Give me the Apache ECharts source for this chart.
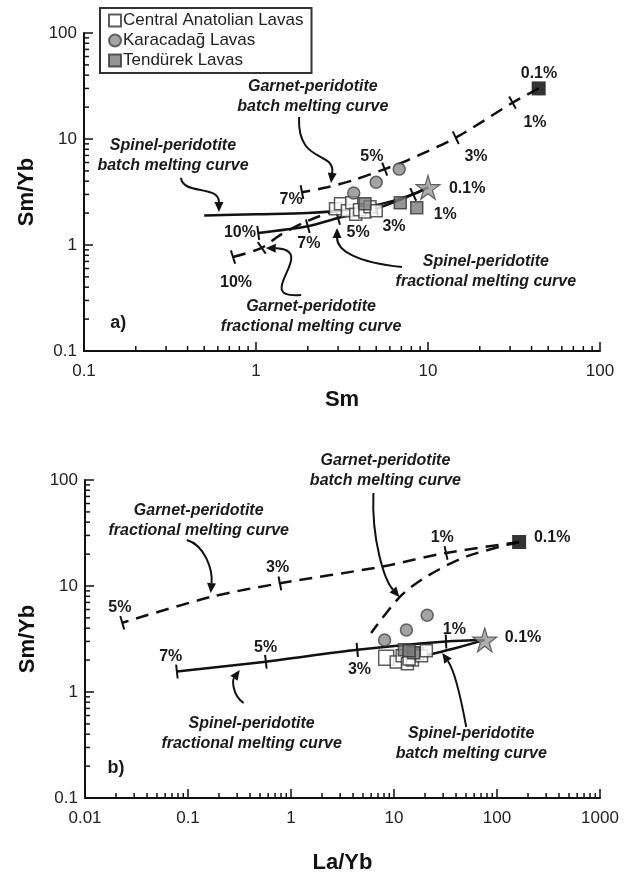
<!DOCTYPE html>
<html>
<head>
<meta charset="utf-8">
<script src="https://cdn.jsdelivr.net/npm/echarts@6/dist/echarts.min.js"></script>
<style>
  html, body { margin: 0; padding: 0; background: #fff; }
  #chart { width: 629px; height: 877px; }
</style>
</head>
<body>
<div id="chart"></div>
<script>
const FONT = '"Liberation Sans", Arial, Helvetica, sans-serif'

// ---------- panel a : Sm vs Sm/Yb ----------
const aCentral = [[2.9, 2.2], [3.1, 2.45], [3.4, 2.1], [3.6, 2.5], [3.8, 1.95], [4.0, 2.15], [4.3, 2.05], [4.6, 2.3], [5.0, 2.1]]
const aKaracadag = [[3.7, 3.1], [5.0, 3.9], [6.8, 5.2]]
const aTendurek = [[4.3, 2.45], [6.9, 2.5], [8.6, 2.25]]
const aGarnetSource = [[44, 30]]
const aSpinelSource = [[10, 3.5]]

const aGarnetBatch = [[44, 30], [31, 22], [14.5, 10.3], [7.6, 6.3], [5.6, 5.2], [3.7, 4.1], [2.6, 3.5], [1.85, 3.15]]
const aGarnetFrac = [[0.735, 0.77], [1.08, 0.94], [1.38, 1.24], [2.05, 1.72], [2.9, 2.1], [3.4, 2.25]]
const aSpinelBatch = [[0.5, 1.9], [1.0, 1.95], [2.0, 2.0], [3.0, 2.1], [4.5, 2.3], [6.5, 2.65], [8.3, 3.05], [10, 3.5]]
const aSpinelFrac = [[1.03, 1.3], [2.0, 1.5], [3.0, 1.8], [5.0, 2.2], [8.2, 3.0], [10, 3.5]]
// percent ticks on the curves: [x, y, curve index]
const aCurveTicks = [[31, 22, 0], [14.5, 10.3, 0], [5.6, 5.2, 0], [1.85, 3.15, 0],
  [0.735, 0.77, 1], [1.08, 0.94, 1],
  [1.03, 1.3, 3], [2.0, 1.5, 3], [3.0, 1.8, 3], [5.0, 2.2, 3], [8.2, 3.0, 3]]
const aPctPos = [[44.2, 41], [41.9, 14.2], [19.0, 6.76], [4.72, 6.76], [1.6, 2.66], [16.9, 3.38], [12.6, 1.92],
  [0.807, 1.3], [2.03, 1.04], [3.92, 1.3], [6.34, 1.48], [0.765, 0.438]]
const aPctText = ['0.1%', '1%', '3%', '5%', '7%', '0.1%', '1%', '10%', '7%', '5%', '3%', '10%']
const aNotePos = [[2.14, 24.9], [0.329, 6.92], [21.7, 0.556], [2.09, 0.209]]
const aNoteText = ['Garnet-peridotite\nbatch melting curve', 'Spinel-peridotite\nbatch melting curve',
  'Spinel-peridotite\nfractional melting curve', 'Garnet-peridotite\nfractional melting curve']
// arrows: start, control 1, control 2, end
const aArrows = [
  [[1.78, 16.1], [1.73, 5.69], [2.88, 7.87], [2.73, 3.85]],
  [[0.366, 4.29], [0.376, 2.96], [0.609, 3.68], [0.609, 2.05]],
  [[7.06, 0.62], [3.76, 0.69], [2.96, 0.9], [2.96, 1.45]],
  [[1.83, 0.338], [0.923, 0.303], [2.36, 0.897], [1.14, 0.937]]
]

// ---------- panel b : La/Yb vs Sm/Yb ----------
const bCentral = [[8.4, 2.1], [10.5, 1.92], [12, 2.2], [13.5, 1.85], [15.1, 2.0], [17, 2.3], [18.5, 2.2], [20.6, 2.45], [14, 2.05]]
const bKaracadag = [[8.1, 3.1], [13.2, 3.85], [21, 5.3]]
const bTendurek = [[12.6, 2.5], [15.5, 2.35], [14, 2.45]]
const bGarnetSource = [[164, 26]]
const bSpinelSource = [[76, 3.1]]

const bGarnetFrac = [[164, 26], [32, 20.5], [7.5, 15.2], [0.78, 10.6], [0.168, 7.9], [0.023, 4.5]]
const bGarnetBatch = [[164, 26], [50, 18.9], [20.5, 12.2], [11.4, 7.9], [6.0, 3.6]]
const bSpinelFrac = [[76, 3.1], [32, 3.0], [4.4, 2.5], [0.57, 1.93], [0.078, 1.56]]
const bSpinelBatch = [[76, 3.1], [40, 2.6], [20, 2.2], [12, 1.95]]
const bCurveTicks = [[32, 20.5, 0], [0.78, 10.6, 0], [0.023, 4.5, 0],
  [32, 3.0, 2], [4.4, 2.5, 2], [0.57, 1.93, 2], [0.078, 1.56, 2]]
const bPctPos = [[0.0218, 6.2], [0.741, 14.8], [29.4, 28.4], [343, 28.4], [0.068, 2.14], [0.567, 2.6], [4.62, 1.61], [38.5, 3.85], [179, 3.23]]
const bPctText = ['5%', '3%', '1%', '0.1%', '7%', '5%', '3%', '1%', '0.1%']
const bNotePos = [[8.26, 124], [0.127, 41], [0.415, 0.402], [56.2, 0.323]]
const bNoteText = ['Garnet-peridotite\nbatch melting curve', 'Garnet-peridotite\nfractional melting curve',
  'Spinel-peridotite\nfractional melting curve', 'Spinel-peridotite\nbatch melting curve']
const bArrows = [
  [[6.31, 75.4], [6.04, 27.2], [8.07, 11.4], [11.3, 7.87]],
  [[0.0973, 27.2], [0.1455, 24.4], [0.174, 14.2], [0.166, 8.59]],
  [[0.347, 0.787], [0.266, 0.937], [0.272, 1.3], [0.318, 1.61]],
  [[50.3, 0.468], [45, 0.84], [38.5, 1.61], [29.4, 2.33]]
]

const panelTags = [['a)', [0.158, 0.184]], ['b)', [0.02, 0.192]]]

const STAR = 'path://M50,0 L61,35 L98,35 L68,57 L79,91 L50,70 L21,91 L32,57 L2,35 L39,35 Z'

function minorValues (lo, hi) {
  const out = []
  for (let e = lo; e < hi; e++) {
    for (let m = 2; m <= 9; m++) out.push(+(m * Math.pow(10, e)).toPrecision(2))
  }
  return out
}

function fmt (v) {
  return v >= 1 ? String(Math.round(v)) : String(+v.toPrecision(2))
}

function makeAxis (gridIndex, min, max, name, gap, vertical) {
  return {
    type: 'log', logBase: 10, gridIndex, min, max,
    name, nameLocation: 'middle', nameGap: gap,
    nameRotate: vertical ? 90 : 0,
    nameTextStyle: { fontFamily: FONT, fontSize: 22, fontWeight: 'bold', color: '#111' },
    axisLine: { show: true, onZero: false, lineStyle: { color: '#111', width: 2 } },
    axisTick: { show: true, inside: true, length: 9, lineStyle: { color: '#111', width: 1.5 } },
    axisLabel: { fontFamily: FONT, fontSize: 17, color: '#222', margin: vertical ? 7 : 12, formatter: fmt },
    splitLine: { show: false }
  }
}

// small ticks at 2..9 of each decade
function minorSeries (axisIdx, values, fixed, isX) {
  return {
    type: 'custom', xAxisIndex: axisIdx, yAxisIndex: axisIdx, silent: true, clip: false,
    data: values.map(v => isX ? [v, fixed] : [fixed, v]),
    renderItem: (params, api) => {
      const p = api.coord([api.value(0), api.value(1)])
      return {
        type: 'line',
        shape: isX ? { x1: p[0], y1: p[1], x2: p[0], y2: p[1] - 5 } : { x1: p[0], y1: p[1], x2: p[0] + 5, y2: p[1] },
        style: { stroke: '#111', lineWidth: 1.5 }
      }
    }
  }
}

function curveSeries (idx, data, dashed) {
  return {
    type: 'line', xAxisIndex: idx, yAxisIndex: idx, data, showSymbol: false, smooth: 0.3,
    silent: true, z: 2,
    lineStyle: { color: '#111', width: 2.5, type: dashed ? [13, 8] : 'solid' }
  }
}

function tickSeries (idx, ticks, curves) {
  return {
    type: 'custom', xAxisIndex: idx, yAxisIndex: idx, silent: true, clip: false, z: 3,
    data: ticks,
    renderItem: (params, api) => {
      const p = api.coord([api.value(0), api.value(1)])
      const pts = curves[api.value(2)].map(q => api.coord(q))
      let best = 0
      let bd = Infinity
      for (let i = 0; i < pts.length - 1; i++) {
        const mx = (pts[i][0] + pts[i + 1][0]) / 2
        const my = (pts[i][1] + pts[i + 1][1]) / 2
        const d = Math.hypot(mx - p[0], my - p[1])
        if (d < bd) { bd = d; best = i }
      }
      let dx = pts[best + 1][0] - pts[best][0]
      let dy = pts[best + 1][1] - pts[best][1]
      const L = Math.hypot(dx, dy) || 1
      dx /= L; dy /= L
      return {
        type: 'line',
        shape: { x1: p[0] - dy * 7, y1: p[1] + dx * 7, x2: p[0] + dy * 7, y2: p[1] - dx * 7 },
        style: { stroke: '#111', lineWidth: 2 }
      }
    }
  }
}

function textSeries (idx, pos, texts, font, lineHeight) {
  return {
    type: 'custom', xAxisIndex: idx, yAxisIndex: idx, silent: true, clip: false, z: 5,
    data: pos,
    renderItem: (params, api) => {
      const p = api.coord([api.value(0), api.value(1)])
      return {
        type: 'text', x: p[0], y: p[1],
        style: { text: texts[params.dataIndex], font, fill: '#1a1a1a', align: 'center', verticalAlign: 'middle', lineHeight }
      }
    }
  }
}

function arrowSeries (idx, list) {
  return {
    type: 'custom', xAxisIndex: idx, yAxisIndex: idx, silent: true, clip: false, z: 4,
    data: list.map(a => a[0]),
    renderItem: (params, api) => {
      const [p0, c1, c2, p1] = list[params.dataIndex].map(q => api.coord(q))
      let dx = p1[0] - c2[0]
      let dy = p1[1] - c2[1]
      const L = Math.hypot(dx, dy) || 1
      dx /= L; dy /= L
      const bx = p1[0] - dx * 10
      const by = p1[1] - dy * 10
      return {
        type: 'group',
        children: [
          { type: 'bezierCurve', shape: { x1: p0[0], y1: p0[1], cpx1: c1[0], cpy1: c1[1], cpx2: c2[0], cpy2: c2[1], x2: bx, y2: by },
            style: { stroke: '#111', lineWidth: 2, fill: null } },
          { type: 'polygon', shape: { points: [p1, [bx - dy * 4.5, by + dx * 4.5], [bx + dy * 4.5, by - dx * 4.5]] },
            style: { fill: '#111' } }
        ]
      }
    }
  }
}

function sampleSeries (idx, central, kara, tend, gSrc, sSrc) {
  return [
    { name: 'Central Anatolian Lavas', type: 'scatter', xAxisIndex: idx, yAxisIndex: idx, z: 6,
      symbol: 'rect', symbolSize: 12, data: central,
      itemStyle: { color: '#fff', borderColor: '#333', borderWidth: 1.5 } },
    { name: 'Karacadağ Lavas', type: 'scatter', xAxisIndex: idx, yAxisIndex: idx, z: 6,
      symbol: 'circle', symbolSize: 12, data: kara,
      itemStyle: { color: '#8c8c8c', borderColor: '#444', borderWidth: 1.5 } },
    { name: 'Tendürek Lavas', type: 'scatter', xAxisIndex: idx, yAxisIndex: idx, z: 6,
      symbol: 'rect', symbolSize: 12, data: tend,
      itemStyle: { color: '#7a7a7a', borderColor: '#333', borderWidth: 1.5 } },
    { type: 'scatter', xAxisIndex: idx, yAxisIndex: idx, z: 7, symbol: 'rect', symbolSize: 14, data: gSrc,
      itemStyle: { color: '#000' } },
    { type: 'scatter', xAxisIndex: idx, yAxisIndex: idx, z: 7, symbol: STAR, symbolSize: 24, data: sSrc,
      itemStyle: { color: '#9a9a9a', borderColor: '#444', borderWidth: 1.2 } }
  ]
}

const NOTE_FONT = 'italic bold 16px ' + FONT
const PCT_FONT = 'bold 16px ' + FONT
const TAG_FONT = 'bold 18px ' + FONT

const myChart = echarts.init(document.getElementById('chart'), null, { renderer: 'canvas' })

const option = {
  animation: false,
  backgroundColor: '#fff',
  legend: {
    data: ['Central Anatolian Lavas', 'Karacadağ Lavas', 'Tendürek Lavas'],
    orient: 'vertical', left: 100, top: 8,
    itemWidth: 12, itemHeight: 12, itemGap: 3,
    padding: [4, 8, 4, 8],
    borderColor: '#333', borderWidth: 2,
    textStyle: { fontFamily: FONT, fontSize: 17, color: '#222', padding: [0, 0, 0, -3] }
  },
  grid: [
    { left: 84, top: 33, width: 516, height: 318 },
    { left: 85, top: 480, width: 515, height: 318 }
  ],
  xAxis: [
    makeAxis(0, 0.1, 100, 'Sm', 38, false),
    makeAxis(1, 0.01, 1000, 'La/Yb', 54, false)
  ],
  yAxis: [
    makeAxis(0, 0.1, 100, 'Sm/Yb', 42, true),
    makeAxis(1, 0.1, 100, 'Sm/Yb', 42, true)
  ],
  series: [
    minorSeries(0, minorValues(-1, 2), 0.1, true),
    minorSeries(0, minorValues(-1, 2), 0.1, false),
    minorSeries(1, minorValues(-2, 3), 0.1, true),
    minorSeries(1, minorValues(-1, 2), 0.01, false),

    curveSeries(0, aGarnetBatch, true),
    curveSeries(0, aGarnetFrac, true),
    curveSeries(0, aSpinelBatch, false),
    curveSeries(0, aSpinelFrac, false),
    tickSeries(0, aCurveTicks, [aGarnetBatch, aGarnetFrac, aSpinelBatch, aSpinelFrac]),

    curveSeries(1, bGarnetFrac, true),
    curveSeries(1, bGarnetBatch, true),
    curveSeries(1, bSpinelFrac, false),
    curveSeries(1, bSpinelBatch, false),
    tickSeries(1, bCurveTicks, [bGarnetFrac, bGarnetBatch, bSpinelFrac, bSpinelBatch]),

    ...sampleSeries(0, aCentral, aKaracadag, aTendurek, aGarnetSource, aSpinelSource),
    ...sampleSeries(1, bCentral.map((d, i) => i === 0 ? { value: d, symbolSize: 15 } : d), bKaracadag, bTendurek, bGarnetSource, bSpinelSource),

    arrowSeries(0, aArrows),
    arrowSeries(1, bArrows),
    textSeries(0, aPctPos, aPctText, PCT_FONT, 18),
    textSeries(1, bPctPos, bPctText, PCT_FONT, 18),
    textSeries(0, aNotePos, aNoteText, NOTE_FONT, 20),
    textSeries(1, bNotePos, bNoteText, NOTE_FONT, 20),
    textSeries(0, [panelTags[0][1]], [panelTags[0][0]], TAG_FONT, 20),
    textSeries(1, [panelTags[1][1]], [panelTags[1][0]], TAG_FONT, 20)
  ]
}

option && myChart.setOption(option)
</script>
</body>
</html>
